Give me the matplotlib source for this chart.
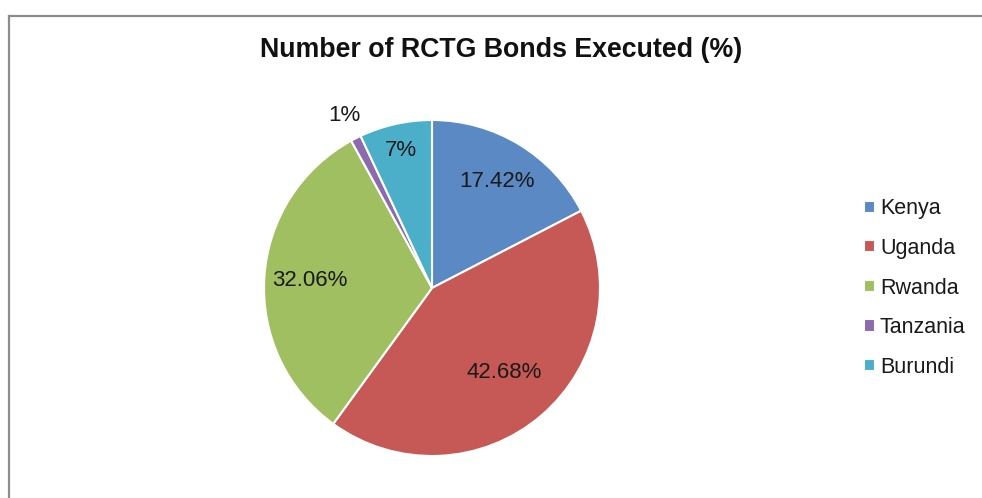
import numpy as np
import matplotlib
matplotlib.use("Agg")
import matplotlib.pyplot as plt

countries = ["Kenya", "Uganda", "Rwanda", "Tanzania", "Burundi"]
shares = [17.42, 42.68, 32.06, 1, 7]
colors = ["#5A89C4", "#C65955", "#A0BF60", "#8C6AAE", "#4BAFCA"]
title = "Number of RCTG Bonds Executed (%)"

plt.rcParams["font.family"] = ["Liberation Sans", "DejaVu Sans"]

W, H = 982, 498
fig = plt.figure(figsize=(W / 100, H / 100), dpi=100)

# chart frame (grey border along top and left)
fig.add_artist(plt.Line2D([9 / W, 1], [1 - 16 / H, 1 - 16 / H], color="#8c8c8c", lw=1.6))
fig.add_artist(plt.Line2D([9 / W, 9 / W], [0, 1 - 16 / H], color="#8c8c8c", lw=1.6))

cx, cy, r = 432, 288, 168
ax = fig.add_axes([(cx - r) / W, (H - cy - r) / H, 2 * r / W, 2 * r / H])
wedges, _ = ax.pie(shares, colors=colors, startangle=90, counterclock=False,
                   wedgeprops=dict(edgecolor="white", linewidth=1.5))
ax.set_xlim(-1, 1)
ax.set_ylim(-1, 1)
ax.set_aspect("equal")
ax.axis("off")

# value labels placed along each slice's mid-angle
label_radius = [0.74, 0.66, 0.73, 1.15, 0.84]
for w, v, rad in zip(wedges, shares, label_radius):
    mid = np.deg2rad((w.theta1 + w.theta2) / 2)
    ax.text(rad * np.cos(mid), rad * np.sin(mid), f"{v:g}%",
            ha="center", va="center", fontsize=16, color="#1a1a1a")

fig.text(501 / W, 1 - 50 / H, title, ha="center", va="center",
         fontsize=19.3, fontweight="bold", color="#111111")

leg = fig.legend(wedges, countries, loc="center left",
                 bbox_to_anchor=(853 / W, 1 - 288 / H), frameon=False,
                 fontsize=15.5, handlelength=0.5, handleheight=0.5,
                 handletextpad=0.25, labelspacing=0.86, borderpad=0)
for t in leg.get_texts():
    t.set_color("#1a1a1a")

fig.savefig("out.png", dpi=100, facecolor="white")
